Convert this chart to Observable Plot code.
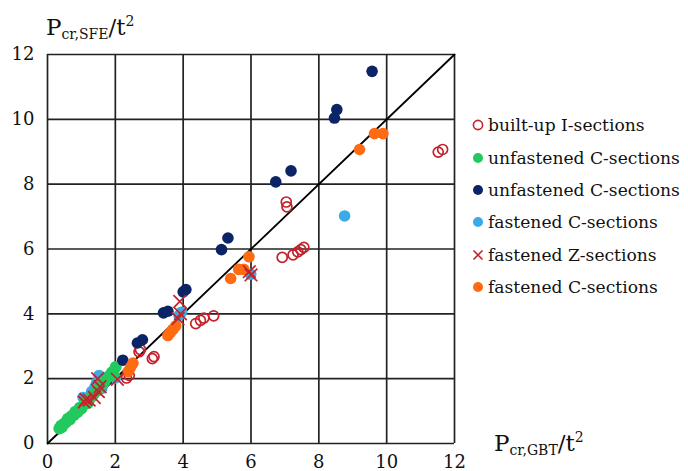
<!DOCTYPE html>
<html>
<head>
<meta charset="utf-8">
<script src="https://cdn.jsdelivr.net/npm/d3@7"></script>
<script src="https://cdn.jsdelivr.net/npm/@observablehq/plot@0.6"></script>
<style>
  html, body { margin: 0; padding: 0; background: #fff; }
  #wrap { position: relative; width: 688px; height: 471px; font-family: "DejaVu Serif", serif; color: #111; overflow: hidden; }
  #wrap svg.plot { position: absolute; left: 0; top: 0; }
  .atitle { position: absolute; white-space: nowrap; font-size: 23px; line-height: 1; }
  .atitle sub { font-size: 14px; vertical-align: -4px; }
  .atitle sup { font-size: 14px; vertical-align: 9px; }
  #legend { position: absolute; left: 472px; top: 109px; font-size: 17px; width: 216px; }
  #legend .row { display: flex; align-items: center; height: 32.4px; white-space: nowrap; }
  #legend svg { margin-right: 4px; flex: none; }
</style>
</head>
<body>
<div id="wrap"></div>
<script>
const xTicks = [0, 2, 4, 6, 8, 10, 12];
const yTicks = [0, 2, 4, 6, 8, 10, 12];
const diagonal = [[0, 0], [12, 12]];

const seriesNames = [
  "built-up I-sections",
  "unfastened C-sections",
  "unfastened C-sections",
  "fastened C-sections",
  "fastened Z-sections",
  "fastened C-sections"
];

const builtUpI = [[2.33,2.02],[2.41,2.1],[2.7,2.83],[2.74,2.9],[3.09,2.62],[3.14,2.68],
  [4.37,3.7],[4.51,3.8],[4.61,3.87],[4.9,3.94],[6.92,5.74],[7.24,5.82],[7.38,5.91],
  [7.47,5.98],[7.56,6.05],[7.04,7.45],[7.06,7.3],[11.52,8.99],[11.65,9.07]];

const unfastenedC1 = [[0.35,0.46],[0.4,0.55],[0.42,0.5],[0.5,0.62],[0.55,0.66],[0.6,0.76],[0.66,0.74],
  [0.7,0.84],[0.78,0.88],[0.82,0.98],[0.88,0.96],[0.95,1.1],[1.0,1.08],[1.08,1.2],[1.15,1.3],
  [1.2,1.26],[1.28,1.42],[1.35,1.5],[1.45,1.62],[1.52,1.72],[1.6,1.84],[1.68,1.9],[1.75,2.02],
  [1.82,2.08],[1.9,2.2],[1.95,2.12],[2.01,2.36]];

const unfastenedC2 = [[2.22,2.57],[2.65,3.1],[2.8,3.2],[3.42,4.03],[3.55,4.08],[4.0,4.68],
  [4.08,4.75],[5.13,5.98],[5.32,6.34],[6.73,8.07],[7.18,8.41],[8.46,10.04],[8.53,10.3],[9.57,11.48]];

const fastenedC1 = [[1.05,1.42],[1.18,1.39],[1.3,1.6],[1.4,1.75],[1.45,1.88],[1.55,1.95],[1.52,2.1],
  [1.6,1.7],[2.0,2.02],[3.88,3.95],[3.95,4.05],[5.99,5.22],[8.76,7.02]];

const fastenedZ = [[1.08,1.28],[1.13,1.36],[1.23,1.34],[1.38,1.42],[1.5,1.6],[1.55,1.75],
  [1.48,2.0],[2.06,1.98],[3.85,3.85],[3.92,4.0],[3.9,4.38],[5.95,5.3],[6.0,5.2]];

const fastenedC2 = [[2.38,2.22],[2.45,2.35],[2.52,2.48],[3.55,3.33],[3.62,3.42],[3.7,3.52],
  [3.78,3.63],[5.4,5.09],[5.64,5.37],[5.79,5.37],[5.94,5.76],[9.2,9.07],[9.64,9.56],[9.89,9.56]];

const colors = {
  red: "#c4212b",
  green: "#22c95e",
  navy: "#0b2466",
  lightBlue: "#3aabe6",
  orange: "#ff6b12"
};

const chart = Plot.plot({
  width: 688,
  height: 471,
  marginLeft: 47,
  marginRight: 234,
  marginTop: 54,
  marginBottom: 28,
  x: { domain: [0, 12] },
  y: { domain: [0, 12] },
  style: { fontFamily: "DejaVu Serif, serif", fontSize: "18px", color: "#111", background: "transparent" },
  marks: [
    Plot.ruleX(xTicks, { stroke: "#222", strokeWidth: 1.7 }),
    Plot.ruleY(yTicks, { stroke: "#222", strokeWidth: 1.7 }),
    Plot.line(diagonal, { x: d => d[0], y: d => d[1], stroke: "#000", strokeWidth: 1.8 }),
    Plot.dot(builtUpI, { x: d => d[0], y: d => d[1], r: 5, stroke: colors.red, strokeWidth: 1.7, fill: "none" }),
    Plot.dot(fastenedC1, { x: d => d[0], y: d => d[1], r: 5.8, fill: colors.lightBlue, stroke: "none" }),
    Plot.dot(unfastenedC1, { x: d => d[0], y: d => d[1], r: 6, fill: colors.green, stroke: "none" }),
    Plot.dot(unfastenedC2, { x: d => d[0], y: d => d[1], r: 5.8, fill: colors.navy, stroke: "none" }),
    Plot.dot(fastenedC2, { x: d => d[0], y: d => d[1], r: 5.8, fill: colors.orange, stroke: "none" }),
    Plot.dot(fastenedZ, { x: d => d[0], y: d => d[1], r: 5.8, symbol: "times", stroke: colors.red, strokeWidth: 1.7 }),
    Plot.axisX(xTicks, { tickSize: 0, tickPadding: 12, label: null, fontSize: 18 }),
    Plot.axisY(yTicks, { tickSize: 0, tickPadding: 13, label: null, fontSize: 18 })
  ]
});
chart.classList.add("plot");

const wrap = document.getElementById("wrap");
wrap.appendChild(chart);

const yTitle = document.createElement("div");
yTitle.className = "atitle";
yTitle.style.left = "46px";
yTitle.style.top = "14px";
yTitle.innerHTML = "P<sub>cr,SFE</sub>/t<sup>2</sup>";
wrap.appendChild(yTitle);

const xTitle = document.createElement("div");
xTitle.className = "atitle";
xTitle.style.left = "494px";
xTitle.style.top = "430px";
xTitle.innerHTML = "P<sub>cr,GBT</sub>/t<sup>2</sup>";
wrap.appendChild(xTitle);

// fit legend font so the longest label spans about 194px, like the reference
const ctx = document.createElement("canvas").getContext("2d");
ctx.font = '100px "DejaVu Serif"';
const w100 = ctx.measureText("unfastened C-sections").width;
const legendFont = Math.max(14, Math.min(19, 100 * 192 / w100));

const legendItems = [
  { name: seriesNames[0], kind: "ring", color: colors.red },
  { name: seriesNames[1], kind: "dot", color: colors.green },
  { name: seriesNames[2], kind: "dot", color: colors.navy },
  { name: seriesNames[3], kind: "dot", color: colors.lightBlue },
  { name: seriesNames[4], kind: "times", color: colors.red },
  { name: seriesNames[5], kind: "dot", color: colors.orange }
];
const legend = document.createElement("div");
legend.id = "legend";
legend.style.fontSize = legendFont + "px";
for (const it of legendItems) {
  const row = document.createElement("div");
  row.className = "row";
  let shape;
  if (it.kind === "ring") shape = `<circle cx="6" cy="6" r="4.6" fill="none" stroke="${it.color}" stroke-width="1.6"/>`;
  else if (it.kind === "dot") shape = `<circle cx="6" cy="6" r="5" fill="${it.color}"/>`;
  else shape = `<path d="M1.5,1.5L10.5,10.5M10.5,1.5L1.5,10.5" stroke="${it.color}" stroke-width="1.6"/>`;
  row.innerHTML = `<svg width="12" height="12">${shape}</svg><span>${it.name}</span>`;
  legend.appendChild(row);
}
wrap.appendChild(legend);
</script>
</body>
</html>
